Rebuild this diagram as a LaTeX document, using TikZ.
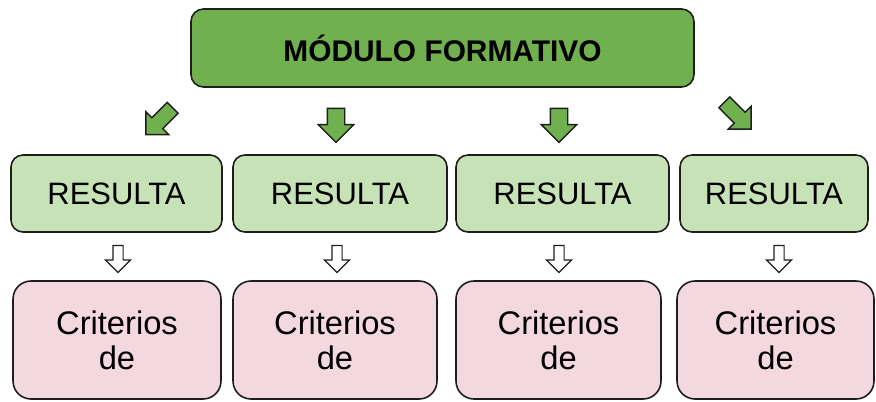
\documentclass[tikz,border=0pt]{standalone}
\usepackage{fontspec}
\setmainfont{Liberation Sans}
\usetikzlibrary{shapes.arrows}
\definecolor{modc}{HTML}{70B04F}
\definecolor{resc}{HTML}{C8E2B7}
\definecolor{cric}{HTML}{F3D8DF}
\definecolor{edgec}{HTML}{1E1E1E}
\tikzset{
  box/.style={draw=edgec, align=center, inner sep=0pt, line width=0.9pt},
  mbox/.style={box, fill=modc, rounded corners=0.25cm, minimum height=1.56cm,
               font=\fontsize{17}{20}\selectfont\bfseries},
  rbox/.style={box, fill=resc, rounded corners=0.24cm, minimum height=1.54cm,
               font=\fontsize{17.6}{20}\selectfont},
  cbox/.style={box, fill=cric, rounded corners=0.36cm, minimum height=2.36cm,
               font=\fontsize{18.6}{19.9}\selectfont},
  garr/.style={single arrow, draw=edgec, fill=modc, line width=0.8pt, inner xsep=0pt,
               inner ysep=0.16cm, single arrow head extend=0.18cm, minimum height=0.68cm},
  darr/.style={garr, inner ysep=0.14cm, single arrow head extend=0.17cm, minimum height=0.76cm},
  warr/.style={single arrow, draw=edgec, fill=white, line width=0.7pt, inner xsep=0pt,
               inner ysep=0.09cm, single arrow head extend=0.15cm, minimum height=0.54cm},
}
\begin{document}
\begin{tikzpicture}
  \useasboundingbox (0,0) rectangle (17.52,-8.02);
  \node[mbox, minimum width=10.06cm] (mod) at (8.85,-0.96) {MÓDULO FORMATIVO};
  % resultados
  \node[rbox, minimum width=4.22cm] (res1) at (2.33,-3.87) {RESULTA};
  \node[rbox, minimum width=4.28cm] (res2) at (6.80,-3.87) {RESULTA};
  \node[rbox, minimum width=4.26cm] (res3) at (11.25,-3.87) {RESULTA};
  \node[rbox, minimum width=3.76cm] (res4) at (15.48,-3.87) {RESULTA};
  % criterios
  \node[cbox, minimum width=4.16cm] (cri1) at (2.34,-6.80) {Criterios\\de};
  \node[cbox, minimum width=4.08cm] (cri2) at (6.70,-6.80) {Criterios\\de};
  \node[cbox, minimum width=4.10cm] (cri3) at (11.17,-6.80) {Criterios\\de};
  \node[cbox, minimum width=3.94cm] (cri4) at (15.51,-6.80) {Criterios\\de};
  % flechas
  \node[darr, rotate=-135] (ga1) at (3.24,-2.37) {};
  \node[garr, rotate=-90] (ga2) at (6.72,-2.42) {};
  \node[garr, rotate=-90] (ga3) at (11.18,-2.42) {};
  \node[darr, rotate=-45] (ga4) at (14.70,-2.26) {};
  \foreach \i/\x in {1/2.36, 2/6.74, 3/11.18, 4/15.58}
    \node[warr, rotate=-90] (wa\i) at (\x,-5.13) {};
\end{tikzpicture}
\end{document}
